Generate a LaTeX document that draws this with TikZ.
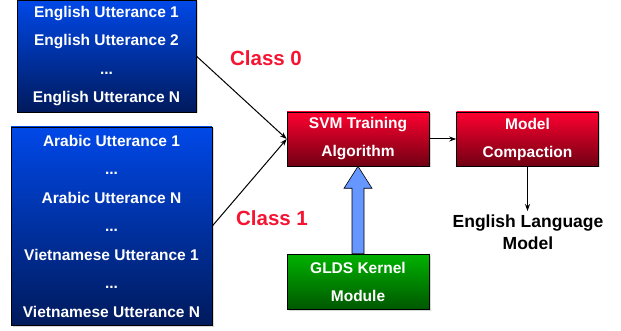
\documentclass[tikz,border=0pt]{standalone}
\usepackage{fontspec}
\setmainfont{Liberation Sans}
\usetikzlibrary{arrows.meta,calc,shadows}

\definecolor{uttblue}{RGB}{0,72,232}
\definecolor{uttnavy}{RGB}{0,26,92}
\definecolor{procred}{RGB}{255,0,48}
\definecolor{procmaroon}{RGB}{112,0,18}
\definecolor{kerngreen}{RGB}{0,178,0}
\definecolor{kerndark}{RGB}{0,88,0}
\definecolor{feedblue}{RGB}{102,150,255}
\definecolor{classred}{RGB}{245,20,50}

\begin{document}
\begin{tikzpicture}[x=1pt,y=-1pt,
  uttbox/.style={draw=black, line width=0.6pt, text=white, align=center, inner sep=0pt,
    top color=uttblue, bottom color=uttnavy,
    drop shadow={shadow xshift=1.5pt, shadow yshift=-1.5pt, fill=gray!60},
    font=\bfseries\fontsize{15.5}{28.5}\selectfont},
  procbox/.style={draw=black, line width=0.6pt, text=white, align=center, inner sep=0pt,
    minimum width=142pt, minimum height=54pt,
    drop shadow={shadow xshift=1.5pt, shadow yshift=-1.5pt, fill=gray!60},
    font=\bfseries\fontsize{15.5}{28}\selectfont},
  redbox/.style={procbox, top color=procred, bottom color=procmaroon},
  greenbox/.style={procbox, top color=kerngreen, bottom color=kerndark},
  classlabel/.style={text=classred, font=\bfseries\fontsize{20.5}{24}\selectfont},
  conn/.style={line width=1pt, -{Stealth[length=7pt,width=5pt]}}]

\useasboundingbox (0,0) rectangle (621,331);

% utterance lists
\node[uttbox, minimum width=179pt, minimum height=112pt] (eng) at (106.5,56)
  {English Utterance 1\\English Utterance 2\\...\\English Utterance N};
\node[uttbox, minimum width=201pt, minimum height=198pt] (other) at (111.5,226)
  {Arabic Utterance 1\\...\\Arabic Utterance N\\...\\Vietnamese Utterance 1\\...\\Vietnamese Utterance N};

% processing stages
\node[redbox] (svm) at (358,139) {SVM Training\\Algorithm};
\node[redbox] (compact) at (527.5,139) {Model\\Compaction};
\node[greenbox, minimum height=55pt] (glds) at (358,281.5) {GLDS Kernel\\Module};

% output
\node[font=\bfseries\fontsize{17.5}{22}\selectfont, align=center] (elm) at (528,232)
  {English Language\\Model};

% class labels
\node[classlabel] (c0) at (266,58) {Class 0};
\node[classlabel] (c1) at (272,218) {Class 1};

% connectors
\draw[conn] (eng.east) -- (svm.west);
\draw[conn] (other.east) -- (svm.west);
\draw[conn] (svm.east) -- (compact.west);
\draw[conn] (compact.south) -- (compact.south |- elm.north);

% kernel feed arrow
\draw[fill=feedblue, line width=0.6pt]
  ($(glds.north)+(-6,0)$) -- ($(svm.south)+(-6,22)$) -- ($(svm.south)+(-14,22)$)
  -- (svm.south) -- ($(svm.south)+(14,22)$) -- ($(svm.south)+(6,22)$)
  -- ($(glds.north)+(6,0)$) -- cycle;

\end{tikzpicture}
\end{document}
